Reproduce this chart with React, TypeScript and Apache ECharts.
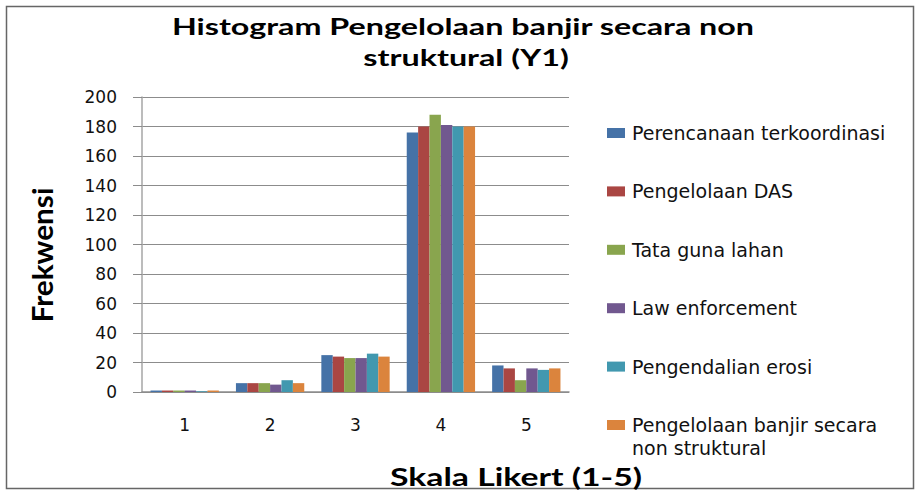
import React, { useEffect, useRef } from "react";
import * as echarts from "echarts";

const categories = ["1", "2", "3", "4", "5"];
const seriesNames = [
  "Perencanaan terkoordinasi",
  "Pengelolaan DAS",
  "Tata guna lahan",
  "Law enforcement",
  "Pengendalian erosi",
  "Pengelolaan banjir secara non struktural",
];
const perencanaanTerkoordinasi = [1, 6, 25, 176, 18];
const pengelolaanDAS = [1, 6, 24, 180, 16];
const tataGunaLahan = [1, 6, 23, 188, 8];
const lawEnforcement = [1, 5, 23, 181, 16];
const pengendalianErosi = [0.5, 8, 26, 180, 15];
const pengelolaanBanjirNonStruktural = [1, 6, 24, 180, 16];
const seriesValues = [
  perencanaanTerkoordinasi,
  pengelolaanDAS,
  tataGunaLahan,
  lawEnforcement,
  pengendalianErosi,
  pengelolaanBanjirNonStruktural,
];
const colors = ["#4572A7", "#AA4643", "#89A54E", "#71588F", "#4198AF", "#DB843D"];
const titleLines = ["Histogram Pengelolaan banjir secara non", "struktural (Y1)"];
const yAxisTitle = "Frekwensi";
const xAxisTitle = "Skala Likert (1-5)";

function measure(text: string, font: string): number {
  const c = document.createElement("canvas").getContext("2d");
  if (!c) return text.length * 10;
  c.font = font;
  return c.measureText(text).width;
}

export default function App() {
  const ref = useRef<HTMLDivElement>(null);
  useEffect(() => {
    document.body.style.margin = "0";
    if (!ref.current) return;
    const chart = echarts.init(ref.current, null, { renderer: "svg" });

    const titleFont = "bold 22px Lato";
    const titleScale = 583 / measure(titleLines[0], titleFont);
    const yFont = "bold 28px Lato";
    const yScale = 135 / measure(yAxisTitle, yFont);
    const xFont = "bold 24px Lato";
    const xScale = 252 / measure(xAxisTitle, xFont);

    const lastName = seriesNames[seriesNames.length - 1];

    chart.setOption({
      animation: false,
      color: colors,
      grid: { left: 142, right: 347, top: 97, bottom: 101, containLabel: false },
      legend: {
        orient: "vertical",
        left: 607,
        top: 123,
        padding: 0,
        itemWidth: 18,
        itemHeight: 10,
        itemGap: 38.4,
        icon: "rect",
        data: seriesNames,
        formatter: (name: string) => (name === lastName ? "Pengelolaan banjir secara" : name),
        textStyle: { fontFamily: "DejaVu Sans", fontSize: 19, color: "#111", lineHeight: 20, padding: [0, 0, 0, 2] },
      },
      xAxis: {
        type: "category",
        data: categories,
        axisLine: { show: true, lineStyle: { color: "#8c8c8c", width: 1.5 } },
        axisTick: { show: false },
        axisLabel: { fontFamily: "DejaVu Sans", fontSize: 17, color: "#111", margin: 24 },
      },
      yAxis: {
        type: "value",
        min: 0,
        max: 200,
        interval: 20,
        axisLine: { show: true, lineStyle: { color: "#a6a6a6", width: 1.5 } },
        axisTick: { show: true, length: 9, lineStyle: { color: "#8c8c8c" } },
        splitLine: { show: true, lineStyle: { color: "#8c8c8c", width: 1 } },
        axisLabel: { fontFamily: "DejaVu Sans", fontSize: 17, color: "#111", margin: 25 },
      },
      series: seriesNames.map((name, i) => ({
        name,
        type: "bar",
        data: seriesValues[i],
        barGap: "0%",
        barCategoryGap: "20%",
        itemStyle: { color: colors[i] },
      })),
      graphic: [
        {
          type: "rect",
          silent: true,
          z: -10,
          shape: { x: 6.5, y: 6.5, width: 907, height: 482 },
          style: { fill: "none", stroke: "#666", lineWidth: 1.5 },
        },
        {
          type: "text",
          x: 463,
          y: 27,
          scaleX: titleScale,
          style: { text: titleLines[0], font: titleFont, fill: "#000", align: "center", verticalAlign: "middle" },
        },
        {
          type: "text",
          x: 466,
          y: 58,
          scaleX: titleScale,
          style: { text: titleLines[1], font: titleFont, fill: "#000", align: "center", verticalAlign: "middle" },
        },
        {
          type: "text",
          x: 42,
          y: 255,
          rotation: Math.PI / 2,
          scaleX: yScale,
          style: { text: yAxisTitle, font: yFont, fill: "#000", align: "center", verticalAlign: "middle" },
        },
        {
          type: "text",
          x: 516,
          y: 477,
          scaleX: xScale,
          style: { text: xAxisTitle, font: xFont, fill: "#000", align: "center", verticalAlign: "middle" },
        },
        {
          type: "text",
          x: 632,
          y: 448,
          style: {
            text: "non struktural",
            font: "19px 'DejaVu Sans'",
            fill: "#111",
            align: "left",
            verticalAlign: "middle",
          },
        },
      ],
    });
    return () => chart.dispose();
  }, []);
  return <div ref={ref} style={{ width: 916, height: 493 }} />;
}
